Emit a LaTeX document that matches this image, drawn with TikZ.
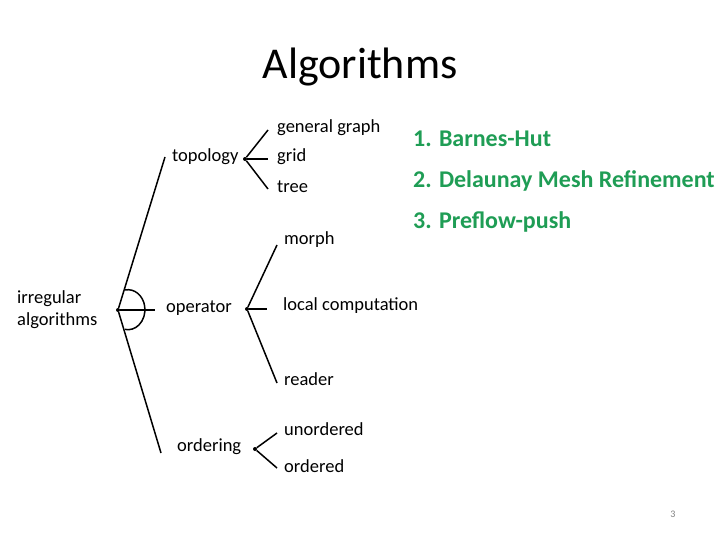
\documentclass[tikz,border=0pt]{standalone}
\usepackage{fontspec}
\setmainfont{Carlito}
\usepackage{tikz}
\usetikzlibrary{positioning}
\definecolor{Leaf}{HTML}{1F9D55}
\definecolor{Pnum}{HTML}{7F7F7F}
\tikzset{
  branch/.style={line width=1.5pt,draw=black},
  label/.style={anchor=west,inner sep=0pt,font=\fontsize{18.5}{22}\selectfont},
  knot/.style={circle,fill=black,minimum size=4pt,inner sep=0pt},
  example/.style={anchor=west,inner sep=0pt,text=Leaf,font=\fontsize{24}{28}\selectfont\bfseries},
}

\begin{document}
\begin{tikzpicture}[x=1pt,y=-1pt]
        \useasboundingbox (0,0) rectangle (720,540);
        \node[font=\fontsize{44}{52}\selectfont] (title) at (360,67) {Algorithms};
        % root
        \node[label,align=left] (irr) at (17,310) {irregular\\algorithms};
        \node[knot] (root) at (118,310) {};
        \coordinate (topo) at (165,157);
        \coordinate (op) at (155,310);
        \coordinate (ord) at (161,453);
        \draw[branch] (root) -- (topo);
        \draw[branch] (root) -- (op);
        \draw[branch] (root) -- (ord);
        \draw[branch] (125,290) arc[start angle=-100,end angle=100,x radius=17,y radius=20];
        % topology
        \node[label] (t) at (172,157) {topology};
        \node[knot] (tk) at (245,159) {};
        \coordinate (t1) at (268,130);
        \coordinate (t2) at (268,159);
        \coordinate (t3) at (268,189);
        \draw[branch] (tk) -- (t1);
        \draw[branch] (tk) -- (t2);
        \draw[branch] (tk) -- (t3);
        \node[label] (gg) at (277,128) {general graph};
        \node[label] (gr) at (277,157) {grid};
        \node[label] (tr) at (277,187) {tree};
        % operator
        \node[label] (o) at (166,308) {operator};
        \node[knot] (ok) at (247,309) {};
        \coordinate (o1) at (277,245);
        \coordinate (o2) at (267,309);
        \coordinate (o3) at (277,383);
        \draw[branch] (ok) -- (o1);
        \draw[branch] (ok) -- (o2);
        \draw[branch] (ok) -- (o3);
        \node[label] (mo) at (284,240) {morph};
        \node[label] (lc) at (283,306) {local computation};
        \node[label] (re) at (284,379) {reader};
        % ordering
        \node[label] (d) at (177,447) {ordering};
        \node[knot] (dk) at (255,449) {};
        \coordinate (d1) at (277,433);
        \coordinate (d2) at (277,468);
        \draw[branch] (dk) -- (d1);
        \draw[branch] (dk) -- (d2);
        \node[label] (un) at (284,429) {unordered};
        \node[label] (od) at (284,466) {ordered};
        % examples
        \node[example] (bh) at (413,139) {1. Barnes-Hut};
        \node[example] (dm) at (413,181) {2. Delaunay Mesh Refinement};
        \node[example] (pp) at (413,222) {3. Preflow-push};
        \node[text=Pnum,font=\fontsize{10}{12}\selectfont] (pg) at (673,514) {3};
      \end{tikzpicture}
\end{document}
